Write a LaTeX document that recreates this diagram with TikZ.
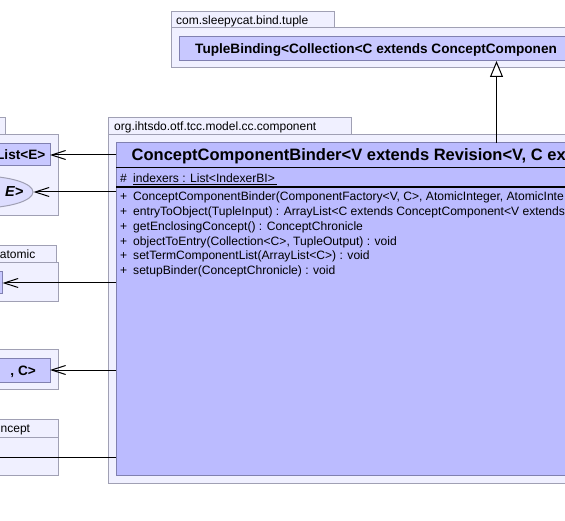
\documentclass[tikz,border=0pt]{standalone}
\usepackage{fontspec}
\setmainfont{Liberation Sans}
\usetikzlibrary{arrows.meta,shapes.geometric}
\definecolor{pkgfill}{RGB}{240,240,255}
\definecolor{pkgline}{RGB}{160,160,180}
\definecolor{mainfill}{RGB}{187,187,255}
\definecolor{clsfill}{RGB}{200,200,255}
\definecolor{clsline}{RGB}{128,128,176}
\definecolor{ifill}{RGB}{221,221,255}
\begin{document}
\begin{tikzpicture}[x=1pt,y=-1pt,
  box/.style={anchor=north west,inner sep=0pt,outer sep=0pt,line width=1pt},
  pkg/.style={box,draw=pkgline,fill=pkgfill},
  cls/.style={box,draw=clsline,fill=clsfill},
  maincls/.style={box,draw=clsline,fill=mainfill},
  pkglbl/.style={inner sep=0pt,font=\fontsize{12}{14}\selectfont},
  clslbl/.style={inner sep=0pt,font=\fontsize{13.6}{16}\selectfont\bfseries},
  member/.style={inner sep=0pt,anchor=base west,font=\fontsize{12.1}{14}\selectfont},
  dep/.style={line width=1pt,-{Straight Barb[length=14pt,width=9pt,line width=1pt]}},
  inh/.style={line width=1pt,-{Triangle[length=16pt,width=13pt,fill=white,line width=1pt]}}]
\useasboundingbox (0,0) rectangle (565,521);
\clip (0,0) rectangle (565,521);
\fill[white] (0,0) rectangle (565,521);

% top package
\node[pkg,minimum width=163pt,minimum height=16pt] (toptab) at (171,12) {};
\node[pkg,minimum width=430pt,minimum height=40pt] (topbody) at (171,28) {};
\node[pkglbl,anchor=base west] (toplbl) at (176,25) {com.sleepycat.bind.tuple};
\node[cls,minimum width=420pt,minimum height=24pt] (tuple) at (179,37) {};
\node[clslbl,anchor=base west] (tuplelbl) at (195,53.5) {TupleBinding<Collection<C extends ConceptComponen};

% main package
\node[pkg,minimum width=243pt,minimum height=17pt] (maintab) at (108,118) {};
\node[pkg,minimum width=500pt,minimum height=348pt] (mainbody) at (108,135) {};
\node[pkglbl,anchor=base west] (mainlbl) at (114,131) {org.ihtsdo.otf.tcc.model.cc.component};
\node[maincls,minimum width=490pt,minimum height=332pt] (main) at (116,143) {};
\node[inner sep=0pt,anchor=base west,font=\fontsize{16.5}{19}\selectfont\bfseries] (title) at (131.5,161) {ConceptComponentBinder<V extends Revision<V, C ex};
\draw[line width=1pt] (116,168) -- (606,168);
\node[member] (attrvis) at (120,183) {\#};
\node[member] (attr) at (133,183) {indexers : List<IndexerBI>};
\draw[line width=0.8pt] (attr.base west) ++(0,1.8) -- ++(144,0);
\draw[line width=1.6pt] (116,187) -- (606,187);
\foreach \i/\t in {0/{ConceptComponentBinder(ComponentFactory<V, C>, AtomicInteger, AtomicInte},
  1/{entryToObject(TupleInput) : ArrayList<C extends ConceptComponent<V extends},
  2/{getEnclosingConcept() : ConceptChronicle},
  3/{objectToEntry(Collection<C>, TupleOutput) : void},
  4/{setTermComponentList(ArrayList<C>) : void},
  5/{setupBinder(ConceptChronicle) : void}}{
  \node[member] (mvis\i) at (120,201+14.7*\i) {+};
  \node[member] (m\i) at (133,201+14.7*\i) {\t};
}

% left package 1
\node[pkg,minimum width=15pt,minimum height=17pt] (ltab1) at (-10,118) {};
\node[pkg,minimum width=68pt,minimum height=81pt] (lbody1) at (-10,135) {};
\node[cls,minimum width=60pt,minimum height=22pt] (list) at (-10,144) {};
\node[clslbl,anchor=base east] (listlbl) at (45.5,160) {List<E>};
\node[ellipse,draw=pkgline,fill=ifill,line width=1pt,inner sep=0pt,minimum width=106pt,minimum height=32pt] (iface) at (-20,192) {};
\node[clslbl,anchor=base east,font=\fontsize{14.5}{16}\selectfont\bfseries\itshape] (ifacelbl) at (23.5,197) {E>};

% left package 2 (atomic)
\node[pkg,minimum width=66pt,minimum height=17pt] (ltab2) at (-10,246) {};
\node[pkglbl,anchor=base east] (atomiclbl) at (35.5,259) {atomic};
\node[pkg,minimum width=68pt,minimum height=39pt] (lbody2) at (-10,263) {};
\node[cls,minimum width=12.5pt,minimum height=22pt] (atomcls) at (-10,272) {};

% left package 3
\node[pkg,minimum width=68pt,minimum height=39pt] (lbody3) at (-10,350) {};
\node[cls,minimum width=60pt,minimum height=24pt] (cbox) at (-10,358) {};
\node[clslbl,anchor=base east] (cboxlbl) at (36,375) {, C>};

% left package 4
\node[pkg,minimum width=68pt,minimum height=18pt] (ltab4) at (-10,419) {};
\node[pkglbl,anchor=base west] (nceptlbl) at (0.5,432.5) {ncept};
\node[pkg,minimum width=68pt,minimum height=38pt] (lbody4) at (-10,437) {};
\coordinate (nceptend) at (-20,457);

% connectors
\coordinate (inhx) at (496.5,0);
\draw[inh] (main.north -| inhx) -- (tuple.south -| inhx);
\draw[dep] (main.west |- list.east) -- (list.east);
\draw[dep] (main.west |- iface.east) -- (iface.east);
\draw[dep] (main.west |- atomcls.east) -- (atomcls.east);
\draw[dep] (main.west |- cbox.east) -- (cbox.east);
\draw[line width=1pt] (main.west |- nceptend) -- (nceptend);
\end{tikzpicture}
\end{document}
